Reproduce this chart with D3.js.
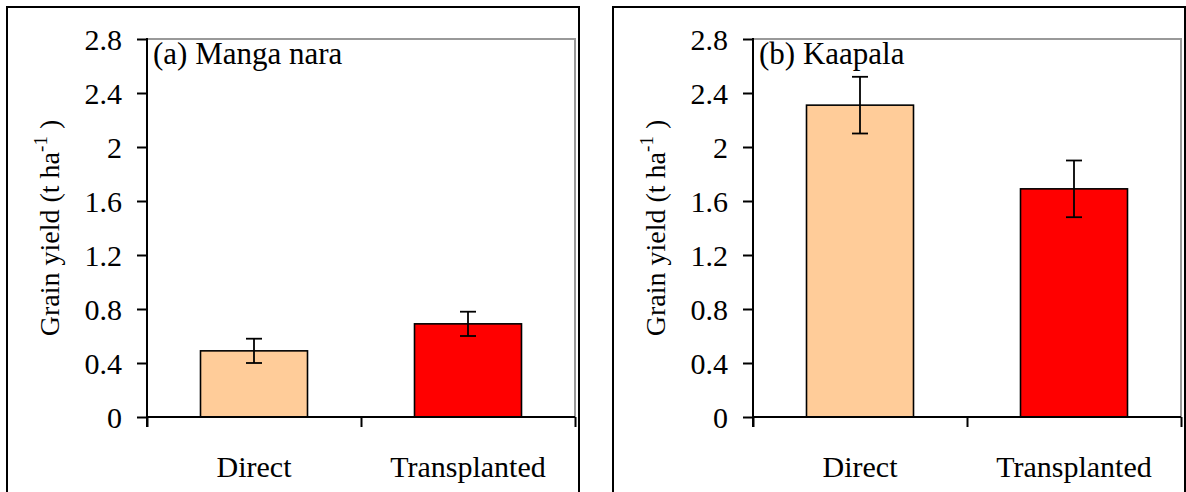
<!DOCTYPE html>
<html>
<head>
<meta charset="utf-8">
<script src="https://cdn.jsdelivr.net/npm/d3@7"></script>
</head>
<body style="margin:0;background:#fff">
<svg id="chart" width="1186" height="492" style="display:block" font-family="Liberation Serif"></svg>
<script>
const categories = ["Direct", "Transplanted"];
const mangaNara = [0.49, 0.69];
const mangaNaraErr = [0.09, 0.09];
const kaapala = [2.31, 1.69];
const kaapalaErr = [0.21, 0.21];
const yTicks = [0, 0.4, 0.8, 1.2, 1.6, 2, 2.4, 2.8];
const yTickLabels = ["0", "0.4", "0.8", "1.2", "1.6", "2", "2.4", "2.8"];
const barColors = ["#FFCC99", "#FF0000"];
const panelTitles = ["(a) Manga nara", "(b) Kaapala"];

const panels = [
  { title: panelTitles[0], values: mangaNara, errs: mangaNaraErr, dx: 0 },
  { title: panelTitles[1], values: kaapala, errs: kaapalaErr, dx: 606 }
];

const svg = d3.select("#chart");
const L = 147, R = 575, T = 39, B = 417;

function serif(sel, size) {
  sel.attr("font-family", "Liberation Serif")
     .style("font-family", "'Liberation Serif'")
     .attr("font-size", size)
     .style("font-size", size + "px")
     .attr("fill", "#000");
  return sel;
}

panels.forEach(p => {
  const g = svg.append("g").attr("transform", `translate(${p.dx},0)`);

  g.append("rect")
    .attr("x", 7).attr("y", 7).attr("width", 572).attr("height", 520)
    .attr("fill", "none").attr("stroke", "#000").attr("stroke-width", 2);

  const y = d3.scaleLinear().domain([0, 2.8]).range([B, T]);
  const x = d3.scaleBand().domain(categories).range([L, R]).paddingInner(0.5).paddingOuter(0.25);
  const xb = d3.scaleLinear().domain([0, categories.length]).range([L, R]);

  g.append("path")
    .attr("d", `M${L},${T}H${R}V${B}`)
    .attr("fill", "none").attr("stroke", "#999").attr("stroke-width", 2);

  g.selectAll("rect.bar").data(p.values).enter().append("rect")
    .attr("class", "bar")
    .attr("x", (d, i) => x(categories[i]))
    .attr("width", x.bandwidth())
    .attr("y", d => y(d))
    .attr("height", d => y(0) - y(d))
    .attr("fill", (d, i) => barColors[i])
    .attr("stroke", "#000").attr("stroke-width", 1.6);

  const eb = g.selectAll("g.err").data(p.values).enter().append("g").attr("class", "err");
  const cx = i => x(categories[i]) + x.bandwidth() / 2;
  eb.append("line")
    .attr("x1", (d, i) => cx(i)).attr("x2", (d, i) => cx(i))
    .attr("y1", (d, i) => y(d + p.errs[i])).attr("y2", (d, i) => y(d - p.errs[i]))
    .attr("stroke", "#000").attr("stroke-width", 1.8);
  [1, -1].forEach(s => {
    eb.append("line")
      .attr("x1", (d, i) => cx(i) - 8).attr("x2", (d, i) => cx(i) + 8)
      .attr("y1", (d, i) => y(d + s * p.errs[i])).attr("y2", (d, i) => y(d + s * p.errs[i]))
      .attr("stroke", "#000").attr("stroke-width", 1.8);
  });

  // y axis
  const ya = g.append("g").attr("transform", `translate(${L},0)`)
    .call(d3.axisLeft(y).tickValues(yTicks).tickSize(10).tickPadding(15)
      .tickFormat((d, i) => yTickLabels[i]));
  ya.attr("font-family", "Liberation Serif").attr("font-size", 30);
  ya.select(".domain").remove();
  ya.selectAll(".tick line").attr("stroke", "#000").attr("stroke-width", 2);
  serif(ya.selectAll(".tick text"), 30).attr("dy", "0.34em");
  g.append("line").attr("x1", L).attr("x2", L).attr("y1", T - 1).attr("y2", B + 10)
    .attr("stroke", "#000").attr("stroke-width", 2);

  // x axis boundary ticks
  const xa = g.append("g").attr("transform", `translate(0,${B})`)
    .call(d3.axisBottom(xb).tickValues(d3.range(categories.length + 1)).tickSize(10).tickFormat(""));
  xa.select(".domain").remove();
  xa.selectAll(".tick line").attr("stroke", "#000").attr("stroke-width", 2);
  g.append("line").attr("x1", L).attr("x2", R).attr("y1", B).attr("y2", B)
    .attr("stroke", "#000").attr("stroke-width", 2);

  // category labels
  const xl = g.append("g").attr("transform", `translate(0,${B})`)
    .call(d3.axisBottom(x).tickSize(0).tickPadding(0));
  xl.attr("font-family", "Liberation Serif").attr("font-size", 30);
  xl.select(".domain").remove();
  serif(xl.selectAll(".tick text"), 30).attr("y", 60).attr("dy", 0);

  // panel title
  serif(g.append("text").attr("x", 153).attr("y", 64), 31).text(p.title);

  // y label
  const yl = serif(g.append("text")
    .attr("transform", `translate(59,${(T + B) / 2}) rotate(-90)`)
    .attr("text-anchor", "middle"), 28);
  yl.append("tspan").text("Grain yield (t ha");
  yl.append("tspan").attr("dy", -12).attr("font-size", 19).style("font-size", "19px").text("-1");
  yl.append("tspan").attr("dy", 12).attr("font-size", 28).style("font-size", "28px").text(" )");
});
</script>
</body>
</html>
